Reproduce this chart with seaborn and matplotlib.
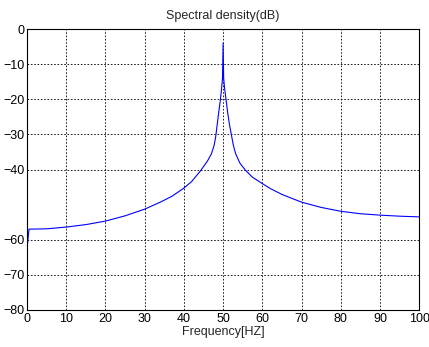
import matplotlib
matplotlib.use('Agg')
import matplotlib.pyplot as plt
import seaborn as sns
import pandas as pd

# Spectrum
freq = [0, 0.5, 5, 10, 15, 20, 25, 30, 34, 37, 40, 42, 44.3, 46, 47,
        47.7, 48.1, 48.5, 48.9, 49.3, 49.6, 49.85, 50, 50.15, 50.4, 50.8,
        51.2, 51.6, 52.1, 52.6, 53.2, 54.3, 55.7, 57.5, 60, 62, 65, 70,
        75, 80, 85, 90, 95, 100]
db = [-62.7, -57.0, -56.9, -56.4, -55.7, -54.7, -53.2, -51.3, -49.3, -47.6,
      -45.3, -43.4, -40.3, -37.6, -35.6, -33.2, -30.8, -27.2, -23.6, -20.3,
      -17.2, -14.0, -4.0, -14.0, -17.0, -20.5, -24.0, -27.0, -30.0, -33.0,
      -35.5, -38.2, -40.2, -42.2, -44.0, -45.4, -47.1, -49.3, -50.8, -51.9,
      -52.6, -53.0, -53.3, -53.5]
xticks = [0, 10, 20, 30, 40, 50, 60, 70, 80, 90, 100]
yticks = [0, -10, -20, -30, -40, -60, -70, -80]

sns.set_style('white')
plt.rcParams['font.family'] = ['Liberation Sans', 'DejaVu Sans']

df = pd.DataFrame({'Frequency': freq, 'dB': db})

fig = plt.figure(figsize=(4.29, 3.47), dpi=100)
ax = fig.add_axes([0.063, 0.107, 0.914, 0.809])
sns.lineplot(data=df, x='Frequency', y='dB', color='#0000ff', linewidth=0.8, ax=ax)

ax.set_xlim(0, 100)
ax.set_ylim(-80, 0)
ax.set_xticks(xticks)
ax.set_yticks(yticks)
ax.grid(True, color='k', linestyle=(0, (2, 2)), linewidth=0.6)
for s in ax.spines.values():
    s.set_color('k')
    s.set_linewidth(0.8)
ax.tick_params(direction='in', length=4, width=0.6, colors='k', labelsize=9, pad=2)
ax.set_title('Spectral density(dB)', fontsize=9, pad=7)
ax.set_xlabel('Frequency[HZ]', fontsize=9, labelpad=1)
ax.set_ylabel('')

fig.savefig('out.png', dpi=100)
